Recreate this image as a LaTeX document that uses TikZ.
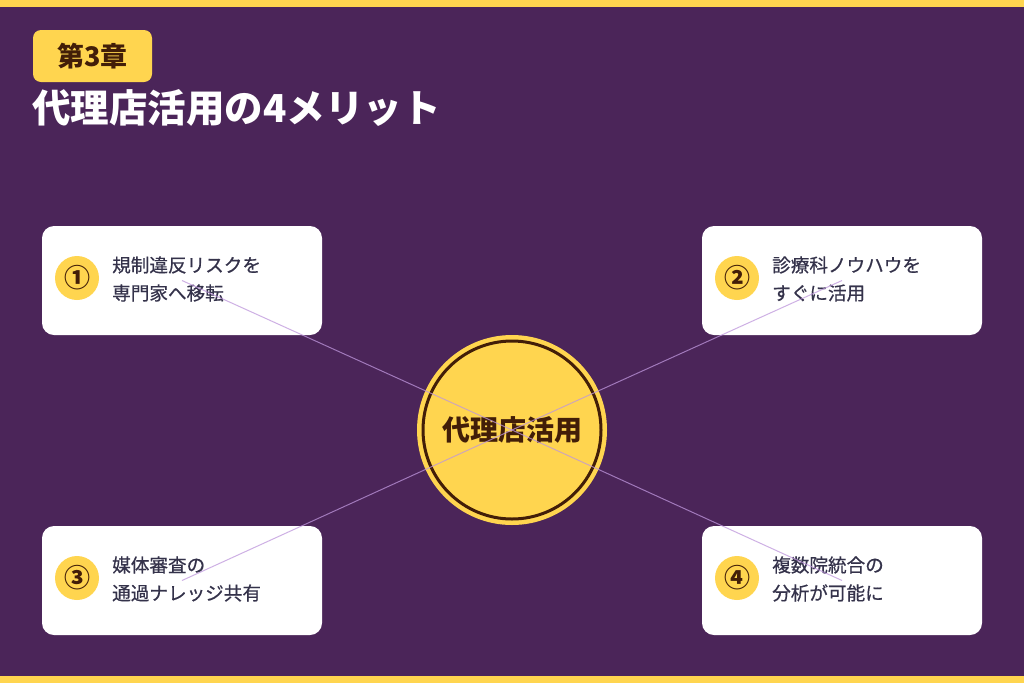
\documentclass[tikz,border=0pt]{standalone}
\usepackage{fontspec}
\usepackage{xcolor}
\usepackage{tikz}
\newfontfamily\jp{Noto Sans CJK JP}
\newfontfamily\jpmed[FakeBold=0.6]{Noto Sans CJK JP}
\definecolor{bgpurple}{RGB}{75, 37, 89}
\definecolor{sunyellow}{RGB}{255, 213, 79}
\definecolor{darkbrown}{RGB}{66, 30, 8}
\definecolor{slatetext}{RGB}{52, 50, 74}
\definecolor{lilac}{RGB}{190, 150, 220}

\begin{document}
\begin{tikzpicture}[x=1pt, y=-1pt,
    card/.style={rectangle, rounded corners=12pt, fill=white, minimum width=280pt, minimum height=109pt},
    num/.style={circle, fill=sunyellow, minimum size=44pt, inner sep=0pt, text=darkbrown,
                font=\jp\bfseries\fontsize{26}{26}\selectfont},
    cardtext/.style={anchor=west, align=left, text=slatetext, inner sep=0pt,
                     font=\jpmed\fontsize{18.6}{28}\selectfont},
    link/.style={draw=lilac, line width=1pt, opacity=0.75}
]
    % Fond et bandes
    \fill[bgpurple] (0,0) rectangle (1024,683);
    \useasboundingbox (0,0) rectangle (1024,683);
    \fill[sunyellow] (0,0) rectangle (1024,7);
    \fill[sunyellow] (0,676) rectangle (1024,683);

    % En-tete
    \node[rectangle, rounded corners=8pt, fill=sunyellow, minimum width=119pt, minimum height=52pt,
          text=darkbrown, font=\jp\bfseries\fontsize{27}{27}\selectfont] (badge) at (92.5,56) {第3章};
    \node[anchor=west, inner sep=0pt, text=white, font=\jp\bfseries\fontsize{38.5}{38.5}\selectfont]
        (title) at (32,108) {代理店活用の4メリット};

    % Centre
    \node[circle, fill=sunyellow, minimum size=190pt, inner sep=0pt] (hub) at (512,430) {};
    \draw[darkbrown, line width=3pt] (hub.center) circle (89);
    \node[text=darkbrown, font=\jp\bfseries\fontsize{28}{28}\selectfont] (hublabel) at (hub.center) {代理店活用};

    % Cartes
    \node[card] (card1) at (182,280.5) {};
    \node[card] (card2) at (842,280.5) {};
    \node[card] (card3) at (182,580.5) {};
    \node[card] (card4) at (842,580.5) {};

    \node[num] (num1) at (77,278) {①};
    \node[num] (num2) at (737,278) {②};
    \node[num] (num3) at (77,578) {③};
    \node[num] (num4) at (737,578) {④};

    \node[cardtext] (text1) at (112,279) {規制違反リスクを\\専門家へ移転};
    \node[cardtext] (text2) at (772,279) {診療科ノウハウを\\すぐに活用};
    \node[cardtext] (text3) at (112,579) {媒体審査の\\通過ナレッジ共有};
    \node[cardtext] (text4) at (772,579) {複数院統合の\\分析が可能に};

    % Liens
    \draw[link] (card1.center) -- (hub.center);
    \draw[link] (card2.center) -- (hub.center);
    \draw[link] (card3.center) -- (hub.center);
    \draw[link] (card4.center) -- (hub.center);
\end{tikzpicture}
\end{document}
